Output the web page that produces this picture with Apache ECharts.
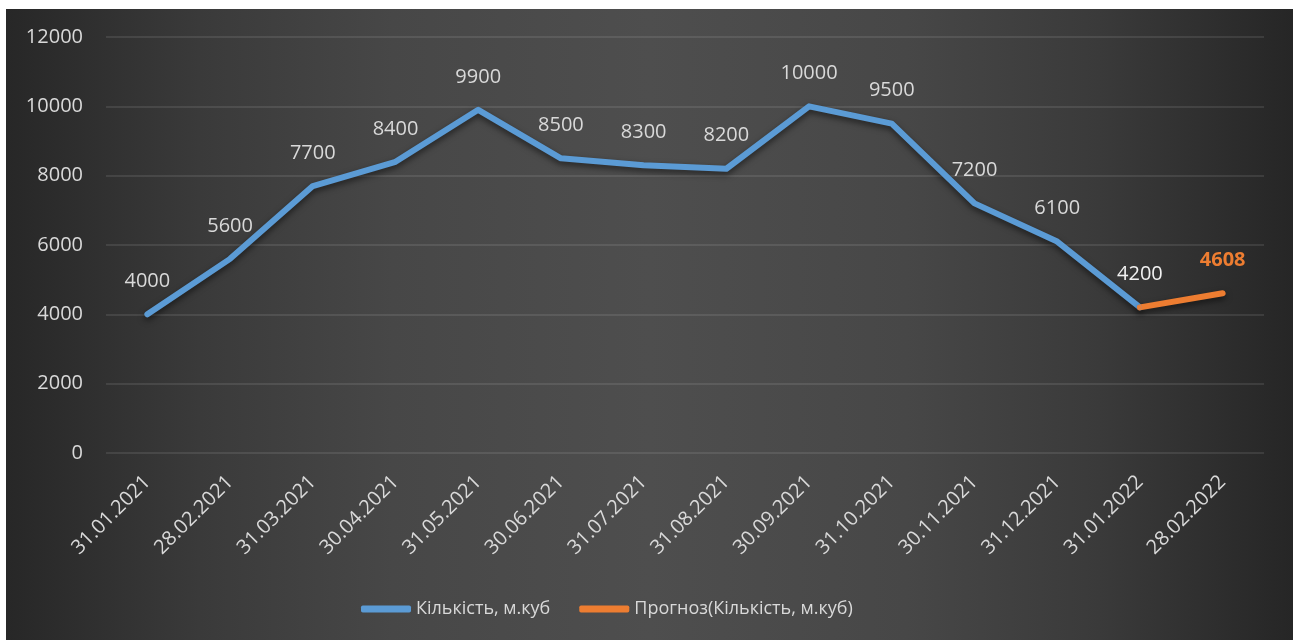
<!DOCTYPE html>
<html>
<head>
<meta charset="utf-8">
<script src="https://cdn.jsdelivr.net/npm/echarts@6/dist/echarts.min.js"></script>
<style>
  html, body { margin: 0; padding: 0; background: #ffffff; }
  #chart {
    position: absolute; left: 6px; top: 9px; width: 1287px; height: 631px;
    background: linear-gradient(to right, #272727 0%, #3a3a3a 15%, #474747 30%, #4e4e4e 50%, #474747 70%, #3a3a3a 85%, #262626 100%);
  }
</style>
</head>
<body>
<div id="chart"></div>
<script>
const categories = ['31.01.2021','28.02.2021','31.03.2021','30.04.2021','31.05.2021','30.06.2021','31.07.2021','31.08.2021','30.09.2021','31.10.2021','30.11.2021','31.12.2021','31.01.2022','28.02.2022'];
const actualValues = [4000,5600,7700,8400,9900,8500,8300,8200,10000,9500,7200,6100,4200,null];
const forecastValues = [null,null,null,null,null,null,null,null,null,null,null,null,4200,4608];
const yTicks = { min: 0, max: 12000, interval: 2000 };
const seriesNames = ['Кількість, м.куб', 'Прогноз(Кількість, м.куб)'];

const FONT = 'Open Sans';
const chart = echarts.init(document.getElementById('chart'), null, { renderer: 'canvas' });

const lastActual = actualValues.reduce((acc, v, i) => v != null ? i : acc, -1);
const actualData = actualValues.map((v, i) => i === lastActual ? { value: v, label: { color: '#f2f2f2' } } : v);
const lastForecast = forecastValues.length - 1;

chart.setOption({
  backgroundColor: 'transparent',
  animation: false,
  grid: { left: 100, right: 29, top: 28, bottom: 187, containLabel: false },
  xAxis: {
    type: 'category',
    data: categories,
    boundaryGap: true,
    axisLine: { show: false },
    axisTick: { show: false },
    axisLabel: { rotate: 45, margin: 26, color: '#d9d9d9', fontSize: 20, fontFamily: FONT }
  },
  yAxis: {
    type: 'value',
    min: yTicks.min, max: yTicks.max, interval: yTicks.interval,
    axisLine: { show: false },
    axisTick: { show: false },
    axisLabel: { margin: 23, color: '#d9d9d9', fontSize: 20, fontFamily: FONT, formatter: v => String(v) },
    splitLine: { lineStyle: { color: 'rgba(255,255,255,0.13)', width: 1.5 } }
  },
  legend: {
    left: 350, top: 586,
    itemWidth: 50, itemHeight: 7, itemGap: 29,
    icon: 'roundRect',
    textStyle: { color: '#d9d9d9', fontSize: 18, fontFamily: FONT },
    data: seriesNames
  },
  series: [
    {
      name: seriesNames[0],
      type: 'line',
      data: actualData,
      symbol: 'circle', symbolSize: 4, showSymbol: true,
      itemStyle: { color: '#5B9BD5' },
      lineStyle: { width: 6, color: '#5B9BD5', cap: 'round', join: 'round', shadowColor: 'rgba(0,0,0,0.55)', shadowBlur: 6, shadowOffsetY: 3 },
      label: { show: true, position: 'top', distance: 21, color: '#d9d9d9', fontSize: 20, fontFamily: FONT }
    },
    {
      name: seriesNames[1],
      type: 'line',
      data: forecastValues,
      symbol: 'circle', symbolSize: 4, showSymbol: true,
      itemStyle: { color: '#ED7D31' },
      lineStyle: { width: 6, color: '#ED7D31', cap: 'round', join: 'round', shadowColor: 'rgba(0,0,0,0.55)', shadowBlur: 6, shadowOffsetY: 3 },
      label: {
        show: true, position: 'top', distance: 21, color: '#ED7D31', fontWeight: 'bold', fontSize: 20, fontFamily: FONT,
        formatter: p => p.dataIndex === lastForecast ? String(p.value) : ''
      }
    }
  ]
});
</script>
</body>
</html>
